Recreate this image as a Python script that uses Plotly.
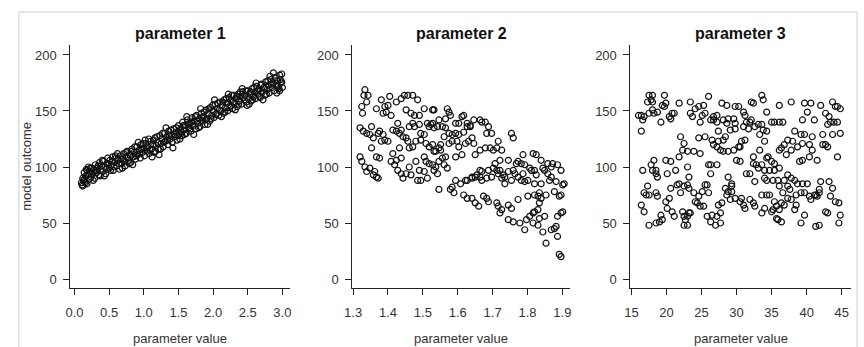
import plotly.graph_objects as go

# ---------------- data ----------------
p1_x = [0.10, 0.11, 0.12, 0.13, 0.14, 0.15, 0.16, 0.17, 0.18, 0.19, 0.20, 0.21, 0.22, 0.24, 0.25, 0.26, 0.28, 0.29, 0.30, 0.32,
        0.33, 0.35, 0.36, 0.38, 0.39, 0.41, 0.42, 0.44, 0.45, 0.47, 0.48, 0.50, 0.51, 0.53, 0.55, 0.56, 0.58, 0.60, 0.61, 0.63,
        0.65, 0.66, 0.68, 0.70, 0.71, 0.73, 0.75, 0.76, 0.78, 0.80, 0.81, 0.83, 0.85, 0.86, 0.88, 0.90, 0.91, 0.93, 0.95, 0.96,
        0.98, 1.00, 1.01, 1.03, 1.05, 1.06, 1.08, 1.10, 1.11, 1.13, 1.15, 1.16, 1.18, 1.20, 1.21, 1.23, 1.25, 1.26, 1.28, 1.30,
        1.31, 1.33, 1.35, 1.36, 1.38, 1.40, 1.41, 1.43, 1.45, 1.46, 1.48, 1.50, 1.51, 1.53, 1.55, 1.56, 1.58, 1.60, 1.61, 1.63,
        1.65, 1.66, 1.68, 1.70, 1.71, 1.73, 1.75, 1.76, 1.78, 1.80, 1.81, 1.83, 1.85, 1.86, 1.88, 1.90, 1.91, 1.93, 1.95, 1.96,
        1.98, 2.00, 2.01, 2.03, 2.05, 2.06, 2.08, 2.10, 2.11, 2.13, 2.15, 2.16, 2.18, 2.20, 2.21, 2.23, 2.25, 2.26, 2.28, 2.30,
        2.31, 2.33, 2.35, 2.36, 2.38, 2.40, 2.41, 2.43, 2.45, 2.46, 2.48, 2.50, 2.51, 2.53, 2.55, 2.56, 2.58, 2.60, 2.61, 2.63,
        2.65, 2.66, 2.68, 2.70, 2.71, 2.73, 2.75, 2.76, 2.78, 2.80, 2.81, 2.83, 2.85, 2.86, 2.88, 2.90, 2.91, 2.93, 2.95, 2.96,
        2.98, 2.99, 3.00,
        0.12, 0.18, 0.27, 0.34, 0.43, 0.52, 0.62, 0.72, 0.84, 0.92, 1.02, 1.12, 1.22, 1.32, 1.42, 1.52, 1.62, 1.72, 1.82, 1.92,
        2.02, 2.12, 2.22, 2.32, 2.42, 2.52, 2.62, 2.72, 2.82, 2.92, 2.97, 2.87,
        0.14, 0.16, 0.21, 0.23, 0.31, 0.37, 0.40, 0.46, 0.49, 0.54, 0.57, 0.59, 0.64, 0.67, 0.69, 0.74, 0.77, 0.79, 0.82, 0.87,
        0.89, 0.94, 0.97, 0.99, 1.04, 1.07, 1.09, 1.14, 1.17, 1.19, 1.24, 1.27, 1.29, 1.34, 1.37, 1.39, 1.44, 1.47, 1.49, 1.54,
        1.57, 1.59, 1.64, 1.67, 1.69, 1.74, 1.77, 1.79, 1.84, 1.87, 1.89, 1.94, 1.97, 1.99, 2.04, 2.07, 2.09, 2.14, 2.17, 2.19,
        2.24, 2.27, 2.29, 2.34, 2.37, 2.39, 2.44, 2.47, 2.49, 2.54, 2.57, 2.59, 2.64, 2.67, 2.69, 2.74, 2.77, 2.79, 2.84, 2.89,
        2.94, 2.99, 2.96]
p1_y = [86, 84, 90, 88, 95, 87, 92, 98, 85, 93, 100, 89, 96, 91, 99, 94, 97, 90, 102, 95,
        99, 93, 104, 98, 101, 96, 105, 100, 94, 103, 108, 99, 106, 102, 109, 97, 104, 108, 101, 106,
        98, 110, 103, 107, 112, 101, 109, 114, 106, 111, 104, 116, 109, 113, 107, 118, 111, 115, 108, 120,
        113, 117, 110, 121, 114, 118, 112, 123, 116, 120, 113, 126, 119, 122, 116, 128, 121, 125, 118, 130,
        123, 127, 120, 132, 125, 129, 122, 134, 127, 131, 124, 137, 130, 134, 128, 140, 133, 137, 130, 142,
        135, 139, 132, 144, 137, 141, 134, 146, 139, 143, 136, 148, 141, 145, 138, 151, 143, 148, 141, 153,
        146, 150, 144, 156, 148, 152, 146, 158, 150, 155, 148, 160, 153, 157, 150, 162, 155, 159, 152, 164,
        157, 161, 154, 165, 159, 163, 156, 167, 160, 164, 158, 168, 161, 165, 159, 170, 163, 167, 161, 172,
        165, 169, 162, 174, 167, 171, 164, 176, 169, 173, 166, 178, 171, 175, 168, 180, 173, 177, 170, 182,
        175, 183, 171,
        83, 97, 88, 101, 92, 97, 112, 105, 102, 122, 124, 109, 111, 135, 117, 125, 145, 129, 152, 138,
        160, 145, 165, 151, 170, 156, 175, 160, 181, 166, 178, 184,
        89, 86, 94, 99, 97, 92, 106, 98, 103, 105, 100, 110, 103, 107, 99, 113, 108, 103, 114, 118,
        110, 112, 116, 121, 117, 125, 115, 124, 114, 127, 116, 130, 122, 124, 128, 133, 129, 135, 128, 131,
        137, 129, 138, 134, 140, 145, 141, 135, 144, 149, 142, 152, 143, 155, 147, 157, 151, 158, 149, 161,
        153, 164, 158, 163, 156, 167, 162, 168, 155, 167, 160, 171, 168, 163, 173, 170, 165, 177, 174, 177,
        172, 176, 168]

p2_x = [1.334, 1.343, 1.331, 1.339, 1.325, 1.327, 1.367, 1.381, 1.391, 1.386, 1.400, 1.405, 1.395, 1.409, 1.424, 1.438,
        1.447, 1.457, 1.471, 1.485, 1.452, 1.466, 1.476, 1.490, 1.504, 1.528, 1.532, 1.570, 1.575, 1.579, 1.617, 1.612,
        1.603, 1.627, 1.636, 1.646, 1.664, 1.669, 1.679, 1.688, 1.683, 1.697, 1.754, 1.759, 1.716, 1.712, 1.726, 1.745,
        1.721, 1.679, 1.664, 1.650, 1.693, 1.702, 1.707, 1.702, 1.688, 1.669, 1.655, 1.641, 1.622, 1.608, 1.594, 1.584,
        1.579, 1.589, 1.546, 1.617, 1.627, 1.641, 1.650, 1.660, 1.674, 1.683, 1.688, 1.712, 1.716, 1.726, 1.745, 1.754,
        1.721, 1.745, 1.759, 1.778, 1.792, 1.797, 1.806, 1.816, 1.820, 1.830, 1.834, 1.830, 1.834, 1.839, 1.853, 1.820,
        1.801, 1.773, 1.816, 1.830, 1.834, 1.849, 1.844, 1.853, 1.868, 1.877, 1.882, 1.886, 1.896, 1.901, 1.886, 1.877,
        1.891, 1.896, 1.901, 1.905, 1.882, 1.863, 1.868, 1.858, 1.849, 1.844, 1.868, 1.872, 1.886, 1.896, 1.858, 1.839,
        1.825, 1.816, 1.806, 1.811, 1.787, 1.773, 1.768, 1.759, 1.764, 1.754, 1.735, 1.735, 1.745, 1.730, 1.726, 1.721,
        1.712, 1.716, 1.697, 1.683, 1.669, 1.664, 1.664, 1.650, 1.641, 1.627, 1.773, 1.782, 1.792, 1.787, 1.801, 1.820,
        1.839, 1.792, 1.782, 1.820, 1.825, 1.896, 1.891,
        1.320, 1.329, 1.339, 1.348, 1.353, 1.358, 1.372, 1.376, 1.386, 1.391, 1.400, 1.381, 1.353, 1.367, 1.376, 1.320,
        1.325, 1.334, 1.339, 1.348, 1.362, 1.367, 1.372, 1.358, 1.414, 1.409, 1.419, 1.424, 1.433, 1.438, 1.428, 1.438,
        1.443, 1.452, 1.461, 1.466, 1.480, 1.485, 1.494, 1.490, 1.504, 1.504, 1.513, 1.509, 1.518, 1.528, 1.537, 1.542,
        1.532, 1.546, 1.556, 1.565, 1.570, 1.561, 1.546, 1.528, 1.537, 1.551, 1.551, 1.532, 1.518, 1.509, 1.494, 1.480,
        1.471, 1.461, 1.457, 1.452, 1.443, 1.433, 1.424, 1.414, 1.428, 1.438, 1.461, 1.476, 1.471, 1.490, 1.513, 1.518,
        1.523, 1.532, 1.542, 1.546, 1.556, 1.565, 1.575, 1.584, 1.594, 1.603, 1.598, 1.603, 1.594, 1.612, 1.622, 1.631,
        1.641, 1.646, 1.584, 1.575, 1.561, 1.617, 1.627, 1.636, 1.594, 1.528, 1.565, 1.494, 1.504]
p2_y = [169, 164, 164, 158, 154, 148, 152, 160, 154, 148, 155, 163, 149, 146, 158, 161,
        164, 164, 164, 160, 151, 148, 146, 146, 152, 151, 151, 152, 149, 146, 146, 145,
        139, 139, 137, 142, 142, 140, 140, 136, 130, 130, 130, 126, 123, 117, 115, 106,
        106, 117, 115, 111, 117, 115, 103, 99, 97, 96, 93, 91, 88, 85, 88, 82,
        80, 77, 80, 75, 72, 72, 68, 65, 74, 72, 69, 68, 65, 62, 66, 63,
        59, 53, 51, 50, 44, 53, 56, 59, 60, 62, 68, 74, 77, 72, 75, 75,
        74, 71, 50, 48, 54, 56, 42, 32, 44, 45, 47, 38, 59, 60, 56, 78,
        74, 75, 84, 85, 87, 88, 91, 94, 97, 99, 100, 103, 102, 97, 103, 106,
        111, 112, 99, 97, 111, 105, 103, 97, 94, 88, 85, 91, 96, 93, 90, 97,
        97, 94, 91, 90, 88, 97, 91, 91, 90, 88, 91, 88, 87, 94, 88, 85,
        85, 102, 103, 97, 93, 20, 22,
        135, 132, 130, 129, 136, 126, 130, 132, 129, 124, 123, 123, 117, 109, 108, 109,
        105, 100, 96, 99, 96, 91, 90, 93, 112, 105, 102, 106, 117, 108, 97, 94,
        90, 94, 100, 93, 105, 88, 88, 97, 109, 96, 90, 105, 103, 102, 100, 94,
        97, 105, 108, 109, 99, 102, 117, 120, 114, 115, 120, 114, 118, 121, 124, 123,
        118, 117, 123, 126, 127, 130, 132, 133, 139, 133, 136, 136, 139, 138, 139, 136,
        138, 135, 136, 142, 136, 135, 130, 129, 130, 129, 123, 118, 109, 111, 121, 123,
        126, 121, 123, 121, 127, 131, 136, 136, 139, 139, 143, 130, 129]

p3_x = [17.5, 18.0, 17.3, 17.8, 18.0, 19.7, 19.4, 19.9, 19.7, 21.8, 23.4, 24.1, 24.6, 25.3, 26.0, 25.5, 25.1, 24.8, 23.7, 23.4,
        20.8, 21.1, 20.4, 20.6, 19.2, 18.7, 18.2, 18.0, 17.5, 16.8, 16.6, 16.4, 16.0, 16.4, 27.9, 28.6, 29.8, 30.3, 31.0, 32.1,
        32.4, 33.6, 33.8, 34.3, 36.1, 37.8, 39.7, 40.6, 40.1, 42.0, 42.7, 43.7, 44.4, 44.8, 44.1, 43.2, 43.4, 43.9, 44.4, 44.8,
        43.7, 43.0, 42.3, 40.8, 39.7, 39.2, 38.3, 38.0, 37.3, 36.8, 36.4, 36.1, 37.1, 37.8, 38.7, 39.4, 40.4, 40.8, 40.4, 39.4,
        39.0, 41.5, 42.3, 42.7, 43.0, 44.4, 41.1, 39.4, 36.6, 36.1, 35.4, 35.0, 34.3, 34.0, 33.3, 34.5, 34.3, 35.0, 35.4, 36.1,
        35.4, 34.7, 34.0, 33.6, 32.8, 32.4, 33.1, 32.6, 34.0, 34.3, 35.2, 35.9, 36.8, 37.3, 37.8, 38.3, 38.7, 39.4, 40.1, 42.0,
        43.2, 43.7, 41.8, 41.1, 40.4, 40.6, 41.3, 41.5, 41.8, 43.4, 44.1, 44.6, 44.8, 44.6, 43.0, 42.7, 41.8, 41.3, 39.7, 39.2,
        38.3, 38.5, 37.8, 37.3, 36.8, 36.4, 36.1, 35.7, 35.4, 34.7, 34.3, 33.6, 35.2, 35.0, 35.7, 35.9, 36.4, 33.6, 34.0, 32.4,
        31.9, 32.6, 30.7, 30.5, 31.0, 31.2, 29.8, 29.1, 28.8, 28.6, 28.4, 29.3, 27.4, 27.9, 27.7, 27.2, 26.5, 26.3, 27.0, 27.7,
        25.8, 25.3, 24.8, 24.4, 24.1, 24.6, 25.1, 25.5, 25.8, 26.0, 23.9, 23.2, 23.0, 22.5, 21.8, 21.5, 22.0, 20.6, 20.4, 19.9,
        20.1, 20.8, 21.1, 22.3, 22.5, 23.0, 23.2, 23.4, 22.7, 22.5, 23.0, 19.4, 19.2, 19.0, 18.5, 17.5, 16.8, 16.4, 17.1, 17.3,
        17.5, 18.7, 18.5, 16.8, 16.6, 17.8, 18.2, 18.5, 18.7, 18.5, 18.0, 19.9, 20.6, 21.3, 20.1, 21.8, 23.0, 23.2, 23.0, 22.3,
        22.5, 22.0, 23.9, 24.6, 25.5, 24.8, 26.0, 26.3, 27.2, 26.3, 26.7, 27.2, 27.4, 28.1, 28.4, 27.4, 26.5, 26.3, 26.7, 27.2,
        28.1, 28.8, 29.6, 29.8, 27.2, 26.7, 29.1, 29.8, 30.3, 30.7, 31.2, 29.6, 28.8, 28.1, 30.0, 30.5, 31.4, 31.9, 32.4, 33.3,
        33.1, 32.6, 31.9, 31.4, 31.2, 31.0, 31.7, 32.1, 33.6, 33.8, 28.8, 28.6, 27.7, 29.3, 30.5, 36.1, 36.6, 37.3, 37.6, 38.5,
        39.2, 39.7, 29.3]
p3_y = [164, 164, 158, 160, 158, 164, 155, 157, 154, 157, 158, 152, 154, 155, 163, 148, 146, 140, 145, 148,
        148, 148, 145, 143, 140, 149, 148, 151, 148, 145, 142, 146, 146, 132, 157, 155, 154, 154, 149, 158,
        157, 164, 160, 149, 155, 158, 157, 157, 149, 155, 148, 158, 154, 152, 154, 145, 140, 140, 140, 130,
        129, 138, 129, 127, 129, 129, 132, 123, 124, 120, 117, 115, 111, 115, 118, 121, 120, 115, 109, 106,
        105, 106, 120, 120, 118, 109, 142, 142, 140, 140, 140, 140, 132, 123, 115, 109, 108, 105, 103, 99,
        97, 97, 97, 102, 102, 103, 99, 87, 90, 88, 88, 88, 88, 93, 90, 88, 85, 85, 85, 87,
        87, 81, 80, 75, 74, 71, 75, 74, 77, 74, 69, 68, 57, 50, 59, 60, 48, 47, 57, 50,
        62, 66, 71, 72, 66, 68, 62, 65, 69, 75, 75, 75, 62, 60, 54, 53, 51, 59, 63, 68,
        71, 65, 72, 69, 66, 63, 72, 71, 78, 75, 81, 83, 66, 68, 59, 56, 57, 51, 48, 50,
        56, 65, 65, 68, 69, 74, 78, 84, 84, 77, 77, 81, 84, 83, 85, 84, 77, 81, 72, 69,
        63, 60, 56, 60, 56, 56, 59, 59, 53, 48, 48, 53, 57, 51, 50, 48, 60, 66, 75, 83,
        75, 74, 77, 77, 97, 102, 106, 94, 91, 97, 97, 106, 105, 97, 94, 109, 100, 91, 114, 115,
        121, 127, 114, 126, 127, 112, 102, 102, 102, 94, 120, 118, 123, 124, 127, 132, 124, 142, 142, 140,
        142, 143, 143, 139, 146, 145, 133, 134, 118, 123, 124, 115, 114, 114, 106, 105, 94, 94, 109, 129,
        138, 136, 140, 140, 146, 136, 134, 142, 138, 133, 91, 139, 115, 78, 118, 83, 77, 83, 80, 75,
        77, 77, 85]

titles = ["parameter 1", "parameter 2", "parameter 3"]
x_ticks = [[0.0, 0.5, 1.0, 1.5, 2.0, 2.5, 3.0],
           [1.3, 1.4, 1.5, 1.6, 1.7, 1.8, 1.9],
           [15, 20, 25, 30, 35, 40, 45]]
x_tick_text = [["0.0", "0.5", "1.0", "1.5", "2.0", "2.5", "3.0"],
               ["1.3", "1.4", "1.5", "1.6", "1.7", "1.8", "1.9"],
               ["15", "20", "25", "30", "35", "40", "45"]]
y_ticks = [0, 50, 100, 150, 200]
x_title = "parameter value"
y_title = "model outcome"

# ---------------- layout constants ----------------
W, H = 864, 347
FONT = "Liberation Sans, Arial, sans-serif"
TXT = "#333333"
AX = "#222222"
x_domains = [[63 / W, 285 / W], [348 / W, 568 / W], [629 / W, 852 / W]]
x_ranges = [[-0.06, 3.11], [1.298, 1.922], [14.85, 46.35]]
y_domain = [(H - 288) / H, (H - 45) / H]
y_range = [-8, 208.9]

fig = go.Figure()
data = [(p1_x, p1_y), (p2_x, p2_y), (p3_x, p3_y)]
for i, (xs, ys) in enumerate(data):
    sfx = "" if i == 0 else str(i + 1)
    fig.add_trace(go.Scatter(
        x=xs, y=ys, mode="markers", xaxis="x" + sfx, yaxis="y" + sfx,
        marker=dict(symbol="circle-open", size=6, color="#111111", line=dict(width=1.2, color="#111111")),
        showlegend=False, hoverinfo="skip"))

layout = dict(
    width=W, height=H, margin=dict(l=0, r=0, t=0, b=0),
    paper_bgcolor="white", plot_bgcolor="white",
    font=dict(family=FONT, size=13, color=TXT),
    showlegend=False,
)
annotations = []
for i in range(3):
    sfx = "" if i == 0 else str(i + 1)
    layout["xaxis" + sfx] = dict(
        domain=x_domains[i], range=x_ranges[i], anchor="y" + sfx,
        tickmode="array", tickvals=x_ticks[i], ticktext=x_tick_text[i],
        ticks="outside", ticklen=6, tickwidth=1, tickcolor=AX,
        showline=True, linecolor=AX, linewidth=1, showgrid=False, zeroline=False,
        tickfont=dict(family=FONT, size=13, color=TXT), ticklabelstandoff=6,
        fixedrange=True)
    layout["yaxis" + sfx] = dict(
        domain=y_domain, range=y_range, anchor="x" + sfx,
        tickmode="array", tickvals=y_ticks,
        ticks="outside", ticklen=6, tickwidth=1, tickcolor=AX,
        showline=True, linecolor=AX, linewidth=1, showgrid=False, zeroline=False,
        tickfont=dict(family=FONT, size=13, color=TXT), ticklabelstandoff=4,
        fixedrange=True)
    cx = (x_domains[i][0] + x_domains[i][1]) / 2
    annotations.append(dict(text="<b>" + titles[i] + "</b>", x=cx, y=(H - 33) / H, xref="paper", yref="paper",
                            xanchor="center", yanchor="middle", showarrow=False,
                            font=dict(family=FONT, size=16, color="#111111")))
    annotations.append(dict(text=x_title, x=cx, y=(H - 338) / H, xref="paper", yref="paper",
                            xanchor="center", yanchor="middle", showarrow=False,
                            font=dict(family=FONT, size=13, color=TXT)))
annotations.append(dict(text=y_title, x=19 / W, y=(H - 166) / H, xref="paper", yref="paper",
                        xanchor="center", yanchor="middle", showarrow=False, textangle=-90,
                        font=dict(family=FONT, size=13, color=TXT)))
layout["annotations"] = annotations
layout["shapes"] = [dict(type="path", xref="paper", yref="paper",
                         path="M %f %f L %f %f L %f %f L %f %f" % (11 / W, -0.05, 11 / W, (H - 12) / H,
                                                                    858 / W, (H - 12) / H, 858 / W, -0.05),
                         line=dict(color="#cfcfcf", width=1))]
fig.update_layout(**layout)
fig.write_html("out.html")
